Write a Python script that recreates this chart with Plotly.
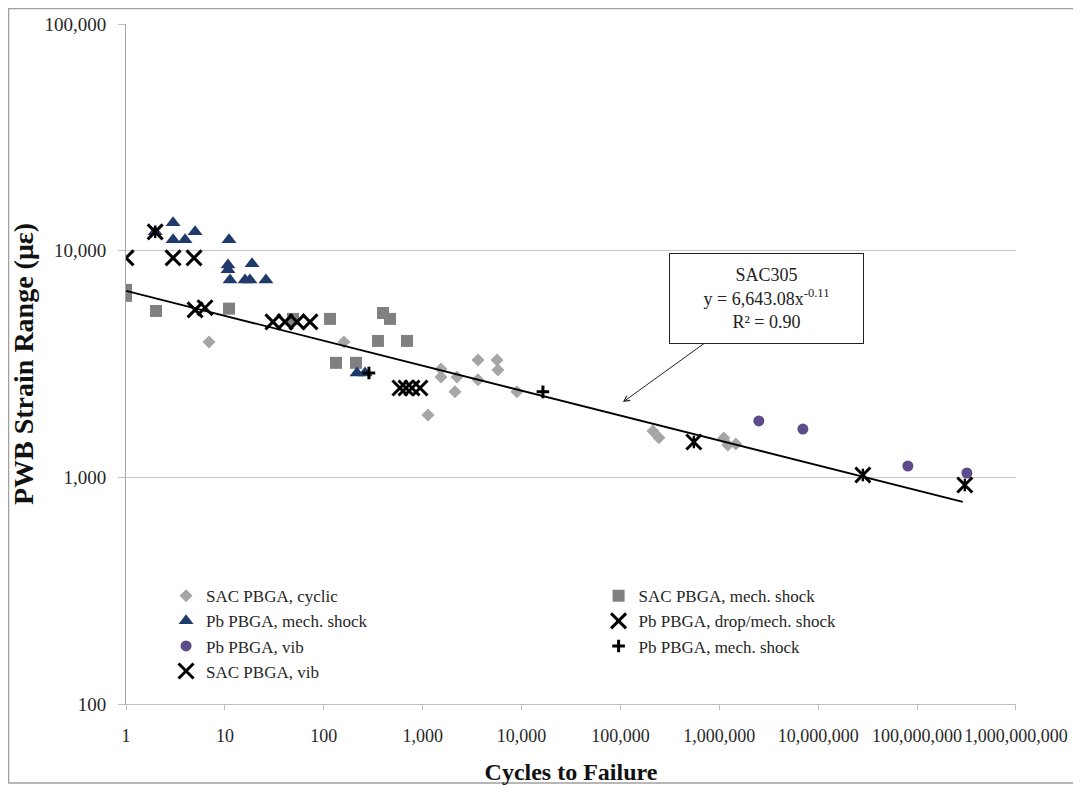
import plotly.graph_objects as go

# ---------------- data ----------------
cyc_x = [6.9, 160, 1132, 1531, 1531, 2223, 2122, 3623, 3623, 5640, 5770, 8980,
         213000, 245000, 1110000, 1220000, 1470000]
cyc_y = [3950, 3950, 1884, 3006, 2773, 2773, 2383, 3297, 2693, 3297, 2979, 2383,
         1600, 1494, 1490, 1390, 1403]

sq_x = [1, 1, 2.01, 11.0, 48.8, 115.6, 397, 467, 353, 694, 132.8, 211.6]
sq_y = [6714, 6321, 5420, 5550, 5000, 5000, 5310, 5000, 3997, 3997, 3200, 3200]

tri_x = [1.97, 2.99, 2.99, 3.95, 4.99, 11.0, 10.75, 10.75, 11.26, 15.97, 18.8, 17.9, 26.0, 216.6, 261]
tri_y = [12110, 13280, 11170, 11170, 12110, 11170, 8650, 8230, 7430, 7430, 8750, 7430, 7430, 2884, 2884]

drop_x = [1, 2.99, 4.87, 4.99, 6.29, 30.6, 40.5, 53.6, 72.5, 589, 678, 780, 939]
drop_y = [9290, 9290, 9290, 5480, 5600, 4853, 4853, 4853, 4853, 2477, 2477, 2477, 2477]

vib_x = [2.51e6, 7.0e6, 8.07e7, 3.19e8]
vib_y = [1773, 1633, 1122, 1045]

plus_x = [286, 16450]
plus_y = [2884, 2383]

sacvib_x = [1.97, 553000, 2.83e7, 3.04e8]
sacvib_y = [12110, 1432, 1024, 925]

# SAC305 power-law trendline (from the chart's equation)
trend_a = 6643.08
trend_b = -0.11
trend_x = [1, 2.9e8]

x_ticks = [1, 10, 100, 1000, 10000, 100000, 1000000, 10000000, 100000000, 1000000000]
x_ticktext = ["1", "10", "100", "1,000", "10,000", "100,000", "1,000,000",
              "10,000,000", "100,000,000", "1,000,000,000"]
y_ticks = [100, 1000, 10000, 100000]
y_ticktext = ["100", "1,000", "10,000", "100,000"]

# ---------------- figure ----------------
FONT = "Liberation Serif"
fig = go.Figure()

fig.add_trace(go.Scatter(x=cyc_x, y=cyc_y, mode="markers", name="SAC PBGA, cyclic",
                         marker=dict(symbol="diamond", size=10, color="#A6A6A6"),
                         legend="legend"))
fig.add_trace(go.Scatter(x=sq_x, y=sq_y, mode="markers", name="SAC PBGA, mech. shock",
                         marker=dict(symbol="square", size=12, color="#808080"),
                         legend="legend2"))
fig.add_trace(go.Scatter(x=tri_x, y=tri_y, mode="markers", name="Pb PBGA, mech. shock",
                         marker=dict(symbol="triangle-up", size=13, color="#1F3B6B"),
                         legend="legend"))
fig.add_trace(go.Scatter(x=drop_x, y=drop_y, mode="markers", name="Pb PBGA, drop/mech. shock",
                         marker=dict(symbol="x-thin-open", size=15, color="black",
                                     line=dict(width=3, color="black")),
                         legend="legend2"))
fig.add_trace(go.Scatter(x=vib_x, y=vib_y, mode="markers", name="Pb PBGA, vib",
                         marker=dict(symbol="circle", size=11, color="#5E4B8B"),
                         legend="legend"))
fig.add_trace(go.Scatter(x=plus_x, y=plus_y, mode="markers", name="Pb PBGA, mech. shock ",
                         marker=dict(symbol="cross-thin-open", size=9, color="black",
                                     line=dict(width=3, color="black")),
                         legend="legend2"))
fig.add_trace(go.Scatter(x=sacvib_x, y=sacvib_y, mode="markers", name="SAC PBGA, vib",
                         legendgroup="sacvib",
                         marker=dict(symbol="x-thin-open", size=15, color="black",
                                     line=dict(width=3, color="black")),
                         legend="legend"))
fig.add_trace(go.Scatter(x=sacvib_x, y=sacvib_y, mode="markers", name="SAC PBGA, vib",
                         legendgroup="sacvib", showlegend=False,
                         marker=dict(symbol="line-ns-open", size=9, color="black",
                                     line=dict(width=2.4, color="black")),
                         legend="legend"))

trend_y = [trend_a * xv ** trend_b for xv in trend_x]
fig.add_trace(go.Scatter(x=trend_x, y=trend_y, mode="lines", showlegend=False,
                         line=dict(color="black", width=1.8), hoverinfo="skip"))

# equation box, with its arrow pointing at the trendline
fig.add_annotation(x=5.025, y=3.332, xref="x", yref="y",
                   ax=6.476, ay=3.789, axref="x", ayref="y",
                   showarrow=True, arrowhead=5, arrowsize=1.1, arrowwidth=1, arrowcolor="#222",
                   text="SAC305<br>y = 6,643.08x<sup>-0.11</sup><br>R² = 0.90",
                   font=dict(family=FONT, size=18, color="#222"),
                   bgcolor="white", bordercolor="#222", borderwidth=1, borderpad=2,
                   width=189, height=85, align="center")

# figure border
fig.add_shape(type="rect", xref="paper", yref="paper",
              x0=-0.1320, x1=1.0674, y0=-0.1162, y1=1.0228,
              line=dict(color="#A0A0A0", width=1.5), layer="below")

fig.update_layout(
    width=1073, height=780,
    margin=dict(l=118, r=65, t=16, b=84, autoexpand=False),
    paper_bgcolor="white", plot_bgcolor="white",
    font=dict(family=FONT, size=19, color="#262626"),
    legend=dict(x=0.045, y=0.185, xanchor="left", yanchor="top",
                bgcolor="rgba(0,0,0,0)", font=dict(family=FONT, size=17, color="#262626"),
                tracegroupgap=0, itemwidth=30),
    legend2=dict(x=0.531, y=0.185, xanchor="left", yanchor="top",
                 bgcolor="rgba(0,0,0,0)", font=dict(family=FONT, size=17, color="#262626"),
                 tracegroupgap=0, itemwidth=30),
    showlegend=True,
)

fig.update_xaxes(type="log", range=[-0.0005, 9.0005], tickvals=x_ticks, ticktext=x_ticktext,
                 showgrid=False, showline=True, linecolor="#BFBFBF", linewidth=1,
                 ticks="outside", ticklen=5, tickcolor="#BFBFBF", tickangle=0,
                 tickfont=dict(family=FONT, size=18, color="#262626"),
                 ticklabelstandoff=10, zeroline=False, automargin=False,
                 title=dict(text="<b>Cycles to Failure</b>",
                            font=dict(family=FONT, size=24, color="#111"), standoff=18))
fig.update_yaxes(type="log", range=[2, 5], tickvals=y_ticks, ticktext=y_ticktext,
                 showgrid=True, gridcolor="#C8C8C8", gridwidth=1,
                 showline=True, linecolor="#A6A6A6", linewidth=1,
                 ticks="outside", ticklen=7, tickcolor="#BFBFBF",
                 tickfont=dict(family=FONT, size=19, color="#262626"),
                 ticklabelstandoff=8, zeroline=False, automargin=False,
                 title=dict(text="<b>PWB Strain Range (με)</b>",
                            font=dict(family=FONT, size=28, color="#111"), standoff=8))

fig.write_html("out.html")
